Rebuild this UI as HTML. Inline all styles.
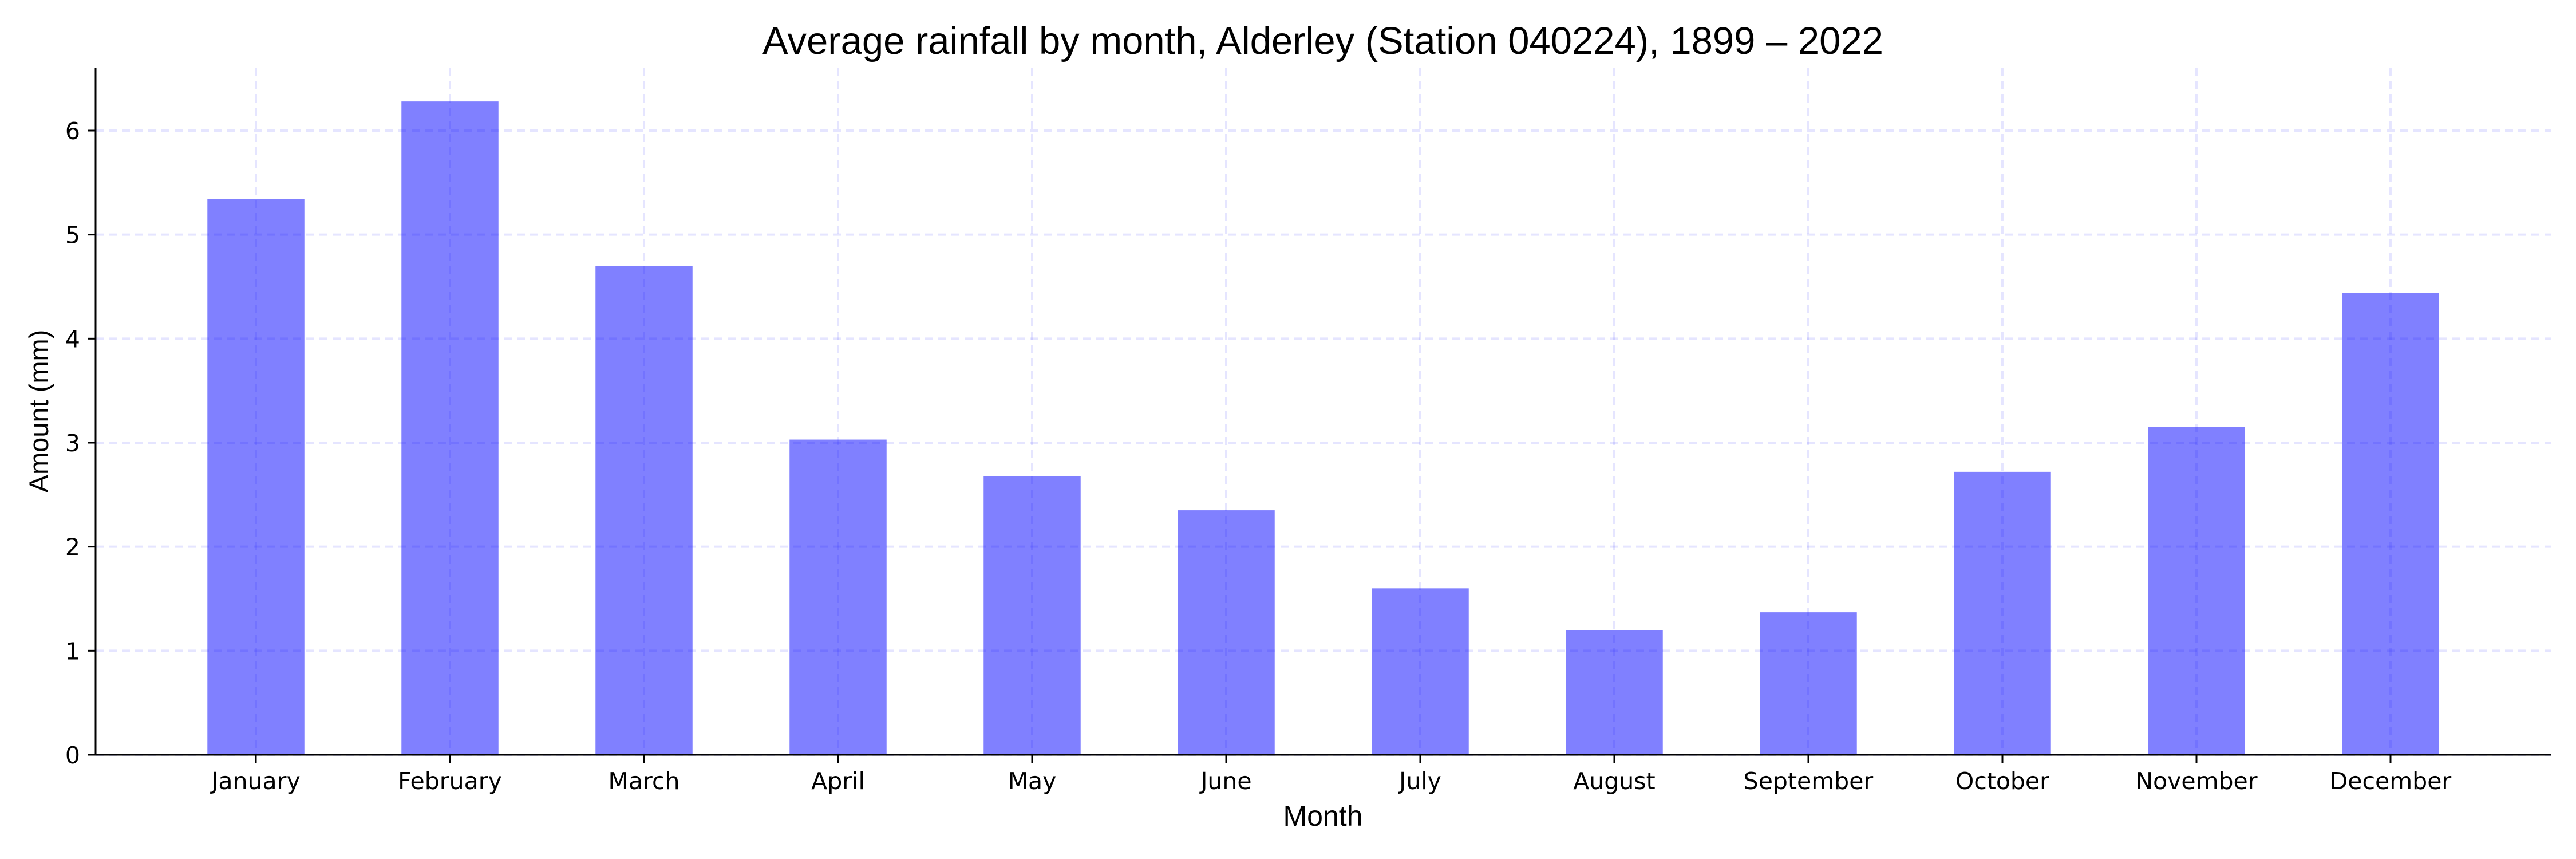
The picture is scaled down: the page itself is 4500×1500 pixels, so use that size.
<!DOCTYPE html>
<html><head><meta charset="utf-8"><style>
html,body{margin:0;padding:0;background:#fff;}
svg{display:block;}
</style></head><body>
<svg id="chart" width="4500" height="1500" viewBox="0 0 4500 1500" xmlns="http://www.w3.org/2000/svg">
<rect width="4500" height="1500" fill="#fff"/>
<text x="2311" y="94" text-anchor="middle" font-family="Liberation Sans, sans-serif" font-size="67" fill="#000">Average rainfall by month, Alderley (Station 040224), 1899 – 2022</text>
<text x="2311" y="1442" text-anchor="middle" font-family="Liberation Sans, sans-serif" font-size="50" fill="#000">Month</text>
<text transform="translate(84,718) rotate(-90)" text-anchor="middle" font-family="Liberation Sans, sans-serif" font-size="47" fill="#000">Amount (mm)</text>
<g id="bars"></g>
<g id="grid"></g>
<g id="axes"></g>
</svg>
<script>
const categories = ["January","February","March","April","May","June","July","August","September","October","November","December"];
const rainfall = [5.34, 6.28, 4.70, 3.03, 2.68, 2.35, 1.60, 1.20, 1.37, 2.72, 3.15, 4.44];
const yTicks = [0, 1, 2, 3, 4, 5, 6];

const NS = "http://www.w3.org/2000/svg";
const L = 167, R = 4456, T = 119, B = 1318;
const xMin = -0.826, xMax = categories.length - 1 + 0.826;
const yMin = 0, yMax = 6.6;
function xs(i){ return L + (i - xMin) / (xMax - xMin) * (R - L); }
function ys(v){ return B - (v - yMin) / (yMax - yMin) * (B - T); }
function mk(tag, attrs, parent){
  const e = document.createElementNS(NS, tag);
  for (const k in attrs) e.setAttribute(k, attrs[k]);
  parent.appendChild(e); return e;
}
const barsG = document.getElementById('bars');
const gridG = document.getElementById('grid');
const axesG = document.getElementById('axes');
const bw = 0.5 * (xs(1) - xs(0));

rainfall.forEach((v, i) => {
  const r = mk('rect', {x: xs(i) - bw/2, y: ys(v), width: bw, height: ys(0) - ys(v), fill: '#8080ff'}, barsG);
  
  
});

yTicks.forEach(t => {
  const g = mk('line', {x1: L, x2: R, y1: ys(t), y2: ys(t), stroke: 'rgba(0,0,255,0.1)', 'stroke-width': 4, 'stroke-dasharray': '14,9'}, gridG);
  
  
  const tk = mk('line', {x1: L - 14, x2: L, y1: ys(t), y2: ys(t), stroke: '#000', 'stroke-width': 3}, axesG);
  
  
  const lb = mk('text', {x: L - 27, y: ys(t) + 15, 'text-anchor': 'end', 'font-family': 'DejaVu Sans, sans-serif', 'font-size': 41, fill: '#000'}, axesG);
  lb.textContent = t;
  
  
});

categories.forEach((c, i) => {
  const g = mk('line', {x1: xs(i), x2: xs(i), y1: T, y2: B, stroke: 'rgba(0,0,255,0.1)', 'stroke-width': 4, 'stroke-dasharray': '14,9'}, gridG);
  
  
  const tk = mk('line', {x1: xs(i), x2: xs(i), y1: B, y2: B + 14, stroke: '#000', 'stroke-width': 3}, axesG);
  
  
  const lb = mk('text', {x: xs(i), y: 1378, 'text-anchor': 'middle', 'font-family': 'DejaVu Sans, sans-serif', 'font-size': 41, fill: '#000'}, axesG);
  lb.textContent = c;
  
  
});

const ya = mk('line', {x1: L, x2: L, y1: T, y2: B + 1.5, stroke: '#000', 'stroke-width': 3}, axesG);


const xa = mk('line', {x1: L - 1.5, x2: R, y1: B, y2: B, stroke: '#000', 'stroke-width': 3}, axesG);


</script>
</body></html>
